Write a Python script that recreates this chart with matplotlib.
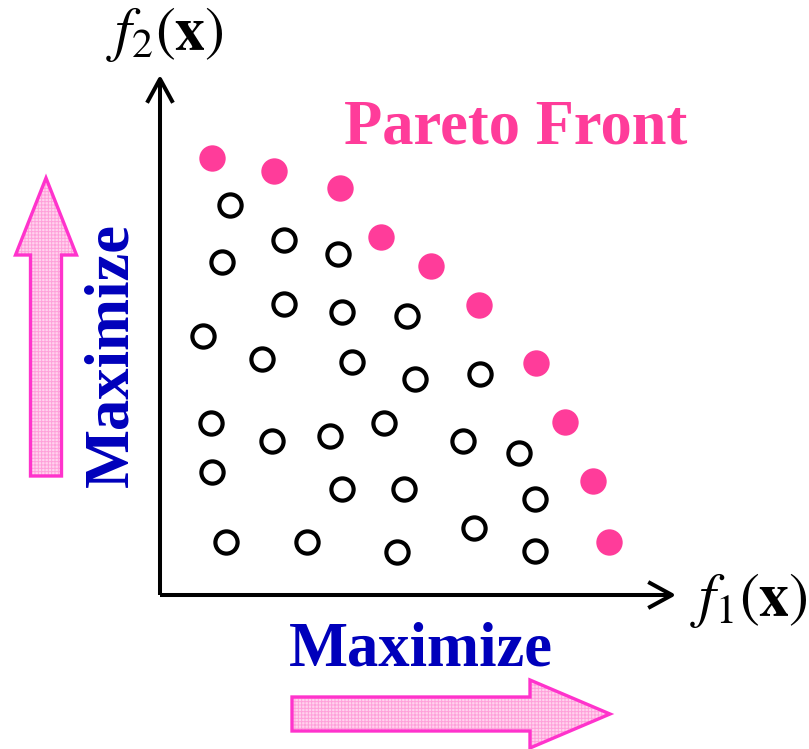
import matplotlib
matplotlib.use('Agg')
import matplotlib.pyplot as plt
from matplotlib.patches import FancyArrow

plt.rcParams['mathtext.fontset'] = 'stix'
plt.rcParams['hatch.linewidth'] = 0.7

# objective values (f1, f2)
pareto_f1 = [52, 114, 180, 221, 271, 319, 376, 405, 433, 449]
pareto_f2 = [437, 424, 407, 358, 329, 290, 232, 173, 114, 53]

other_f1 = [70, 124, 178, 62, 124, 182, 247, 43, 102, 192, 255, 320, 51, 112,
            170, 224, 303, 359, 52, 182, 244, 375, 66, 147, 237, 314, 375]
other_f2 = [390, 355, 341, 333, 291, 283, 279, 259, 236, 233, 216, 221, 172, 154,
            159, 172, 154, 142, 123, 106, 106, 96, 53, 53, 43, 67, 44]

pink = '#ff3c9a'
blue = '#0000bb'
arrow_edge = '#ff33cc'

fig = plt.figure(figsize=(8.09, 7.49), dpi=100)
ax = fig.add_axes([0, 0, 1, 1])
ax.set_xlim(-160, 649)
ax.set_ylim(-154, 595)
ax.axis('off')

# axes with open arrow heads
lw = 2.9
ax.plot([0, 0], [0, 515], color='black', lw=lw, solid_capstyle='butt')
ax.plot([0, 510], [0, 0], color='black', lw=lw, solid_capstyle='butt')
ax.plot([-12, 0, 12], [494, 516, 494], color='black', lw=lw)
ax.plot([490, 512, 490], [12, 0, -12], color='black', lw=lw)

ax.plot(other_f1, other_f2, 'o', ms=16, mfc='none', mec='black', mew=3.0)
ax.plot(pareto_f1, pareto_f2, 'o', ms=19, mfc=pink, mec='none')

ax.text(356, 467, 'Pareto Front', color=pink, fontsize=45, fontweight='bold',
        family='Liberation Serif', ha='center', va='center')
ax.text(5, 560, r'$f_2(\mathbf{x})$', fontsize=43, ha='center', va='center')
ax.text(589, -6, r'$f_1(\mathbf{x})$', fontsize=43, ha='center', va='center')

ax.text(261, -55, 'Maximize', color=blue, fontsize=45, fontweight='bold',
        family='Liberation Serif', ha='center', va='center')
ax.text(-48, 240, 'Maximize', color=blue, fontsize=45, fontweight='bold',
        family='Liberation Serif', ha='center', va='center', rotation=90)

# big pink hatched arrows
for x, y, dx, dy, w, hw, hl in [(132, -119, 318, 0, 34, 68, 80),
                                (-114, 119, 0, 298, 31, 61, 77)]:
    ax.add_patch(FancyArrow(x, y, dx, dy, width=w, head_width=hw, head_length=hl,
                            length_includes_head=True, facecolor='#ffd3ee',
                            edgecolor='#ffa0da', hatch='+++++', lw=0))
    ax.add_patch(FancyArrow(x, y, dx, dy, width=w, head_width=hw, head_length=hl,
                            length_includes_head=True, fill=False,
                            edgecolor=arrow_edge, lw=2.4))

fig.savefig('out.png', dpi=100)
